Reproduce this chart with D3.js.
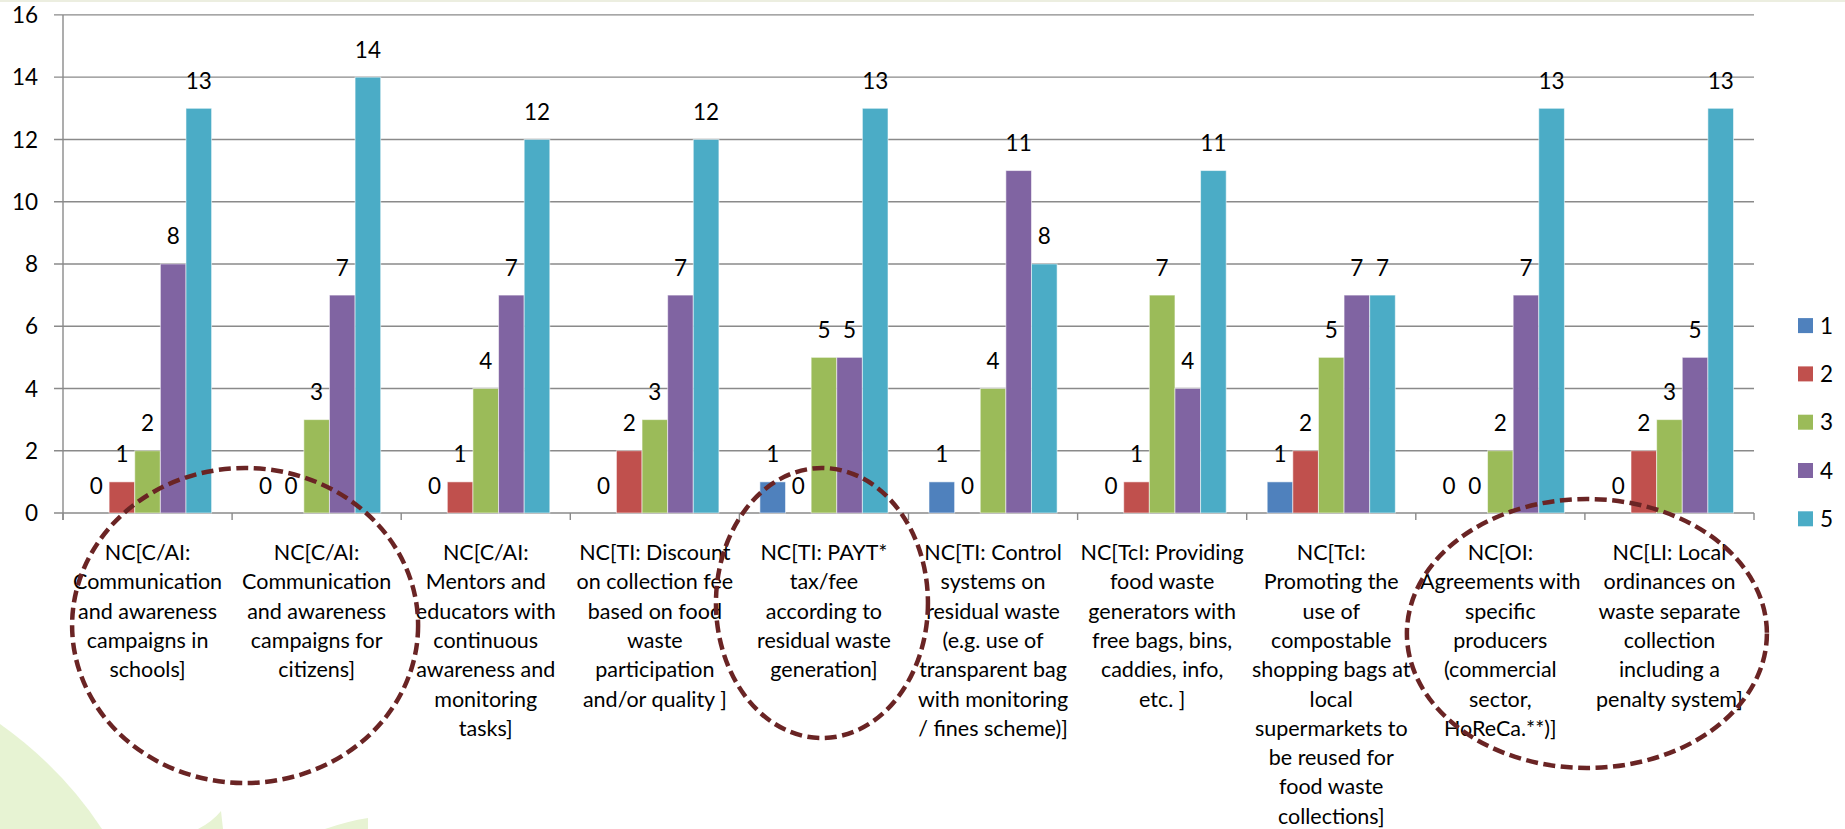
<!DOCTYPE html>
<html>
<head>
<meta charset="utf-8">
<script src="https://cdn.jsdelivr.net/npm/d3@7"></script>
<style>
  html, body { margin: 0; padding: 0; background: #fff; }
  svg { display: block; }
  text { font-family: Lato, "Noto Sans", sans-serif; fill: #000; }
</style>
</head>
<body>
<svg id="chart" width="1845" height="829"></svg>
<script>
const categories = ["C1","C2","C3","C4","C5","C6","C7","C8","C9","C10"];
const categoryLines = [
  ["NC[C/AI:", "Communication", "and awareness", "campaigns in", "schools]"],
  ["NC[C/AI:", "Communication", "and awareness", "campaigns for", "citizens]"],
  ["NC[C/AI:", "Mentors and", "educators with", "continuous", "awareness and", "monitoring", "tasks]"],
  ["NC[TI: Discount", "on collection fee", "based on food", "waste", "participation", "and/or quality ]"],
  ["NC[TI: PAYT*", "tax/fee", "according to", "residual waste", "generation]"],
  ["NC[TI: Control", "systems on", "residual waste", "(e.g. use of", "transparent bag", "with monitoring", "/ fines scheme)]"],
  ["NC[TcI: Providing", "food waste", "generators with", "free bags, bins,", "caddies, info,", "etc. ]"],
  ["NC[TcI:", "Promoting the", "use of", "compostable", "shopping bags at", "local", "supermarkets to", "be reused for", "food waste", "collections]"],
  ["NC[OI:", "Agreements with", "specific", "producers", "(commercial", "sector,", "HoReCa.**)]"],
  ["NC[LI: Local", "ordinances on", "waste separate", "collection", "including a", "penalty system]"]
];
const seriesNames = ["1","2","3","4","5"];
const series1 = [0,0,0,0,1,1,0,1,0,0];
const series2 = [1,0,1,2,0,0,1,2,0,2];
const series3 = [2,3,4,3,5,4,7,5,2,3];
const series4 = [8,7,7,7,5,11,4,7,7,5];
const series5 = [13,14,12,12,13,8,11,7,13,13];
const seriesColors = ["#4F81BD","#C0504D","#9BBB59","#8064A2","#4BACC6"];
const yTicks = [0,2,4,6,8,10,12,14,16];
// highlighted groups (dashed ellipses) by category index
const highlightGroups = [[0,1],[4],[8,9]];

const allSeries = [series1, series2, series3, series4, series5];

const svg = d3.select("#chart");
const W = 1845, H = 829;
const plot = {left: 63, right: 1754, top: 14.9, bottom: 513};

// background decoration
svg.append("rect").attr("x",0).attr("y",0).attr("width",W).attr("height",2).attr("fill","#eceee0");
const leaf = "#e7f3d3";
svg.append("path").attr("fill", leaf)
  .attr("d", "M0,724 Q62,768 102,829 L0,829 Z");
svg.append("path").attr("fill", leaf)
  .attr("d", "M221,811 Q212,822 198,829 L223,829 Z");
svg.append("path").attr("fill", leaf)
  .attr("d", "M325,829 Q348,821 368,818 L368,829 Z");

const x = d3.scaleBand().domain(categories).range([plot.left, plot.right]).paddingInner(0).paddingOuter(0);
const xInner = d3.scaleBand().domain(seriesNames).range([0, x.bandwidth()]).paddingInner(0).paddingOuter(0.8);
const y = d3.scaleLinear().domain([0,16]).range([plot.bottom, plot.top]);

// gridlines
svg.append("g").selectAll("line").data(yTicks).join("line")
  .attr("x1", plot.left - 9).attr("x2", plot.right)
  .attr("y1", d => y(d)).attr("y2", d => y(d))
  .attr("stroke", "#8a8a8a").attr("stroke-width", 1.4);

// y axis line
svg.append("line").attr("x1", plot.left).attr("x2", plot.left)
  .attr("y1", plot.top).attr("y2", plot.bottom + 7)
  .attr("stroke", "#8a8a8a").attr("stroke-width", 1.4);

// y tick labels
svg.append("g").selectAll("text").data(yTicks).join("text")
  .attr("x", 38).attr("y", d => y(d)).attr("dy", "0.36em")
  .attr("text-anchor", "end").attr("font-size", 22.5).text(d => d);

// x tick marks at category boundaries
const bounds = categories.map(c => x(c)).concat([plot.right]);
svg.append("g").selectAll("line").data(bounds).join("line")
  .attr("x1", d => d).attr("x2", d => d)
  .attr("y1", plot.bottom).attr("y2", plot.bottom + 7)
  .attr("stroke", "#8a8a8a").attr("stroke-width", 1.4);

// bars
const data = [];
categories.forEach((c, i) => {
  allSeries.forEach((s, j) => data.push({cat: c, ci: i, ser: seriesNames[j], si: j, v: s[i]}));
});
svg.append("g").selectAll("rect").data(data.filter(d => d.v > 0)).join("rect")
  .attr("x", d => x(d.cat) + xInner(d.ser))
  .attr("width", xInner.bandwidth())
  .attr("y", d => y(d.v))
  .attr("height", d => y(0) - y(d.v))
  .attr("fill", d => seriesColors[d.si])
  .attr("stroke", "rgba(255,255,255,0.55)").attr("stroke-width", 1);

// data labels
svg.append("g").selectAll("text").data(data).join("text")
  .attr("x", d => x(d.cat) + xInner(d.ser) + xInner.bandwidth()/2)
  .attr("y", d => y(d.v) - 19.5)
  .attr("text-anchor", "middle").attr("font-size", 22.5)
  .text(d => d.v);

// category labels
const lab = svg.append("g");
categories.forEach((c, i) => {
  const cx = x(c) + x.bandwidth()/2;
  const t = lab.append("text").attr("text-anchor", "middle").attr("font-size", 21.5)
    .attr("x", cx).attr("y", 560);
  categoryLines[i].forEach((ln, k) => {
    t.append("tspan").attr("x", cx).attr("y", 560 + k*29.3).text(ln);
  });
});

// legend
const lg = svg.append("g");
seriesNames.forEach((s, j) => {
  const cy = 325.6 + j*48.3;
  lg.append("rect").attr("x", 1798).attr("y", cy - 7.5).attr("width", 15).attr("height", 15)
    .attr("fill", seriesColors[j]);
  lg.append("text").attr("x", 1820).attr("y", cy).attr("dy", "0.36em")
    .attr("font-size", 22.5).text(s);
});

// dashed highlight ellipses, centred relative to the highlighted categories
const ellShape = [
  {dx: 13, cy: 625.5, rx: 173, ry: 157.5},
  {dx: -2, cy: 603, rx: 106, ry: 135},
  {dx: 2, cy: 633.5, rx: 180, ry: 134.5}
];
const ell = highlightGroups.map((g, k) => {
  const left = x(categories[g[0]]), right = x(categories[g[g.length-1]]) + x.bandwidth();
  return Object.assign({cx: (left + right) / 2 + ellShape[k].dx}, ellShape[k]);
});
svg.append("g").selectAll("ellipse").data(ell).join("ellipse")
  .attr("cx", d => d.cx).attr("cy", d => d.cy).attr("rx", d => d.rx).attr("ry", d => d.ry)
  .attr("fill", "none").attr("stroke", "#6a2424").attr("stroke-width", 4.5)
  .attr("stroke-dasharray", "12,5.5");
</script>
</body>
</html>
